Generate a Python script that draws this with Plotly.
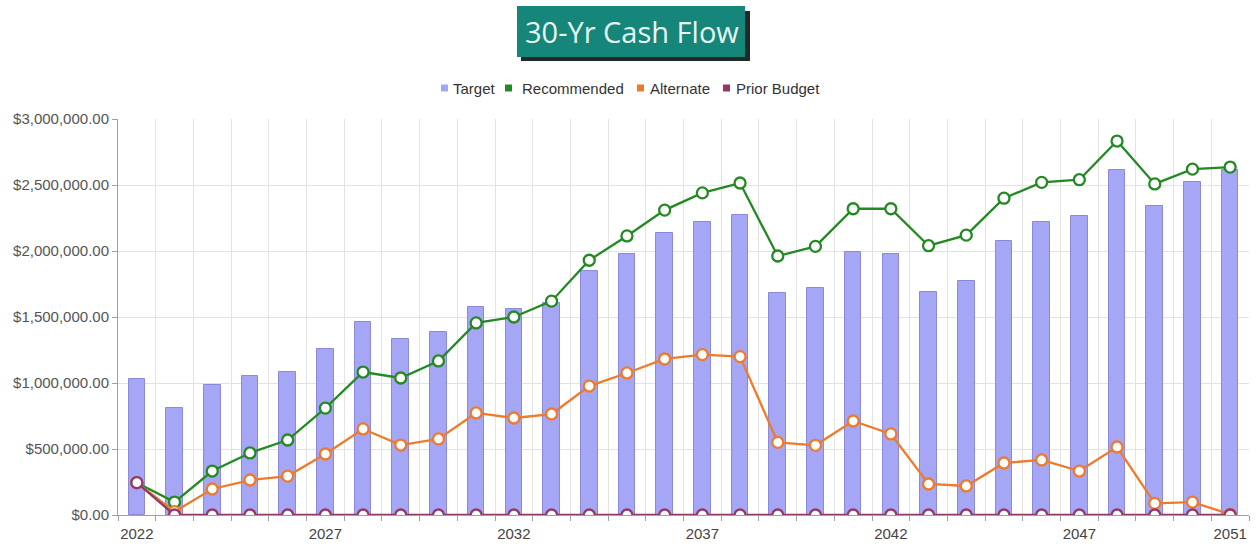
import plotly.graph_objects as go

years = list(range(2022, 2052))
target = [1030000, 810000, 985000, 1050000, 1080000, 1260000, 1460000, 1330000, 1390000, 1575000,
          1560000, 1605000, 1850000, 1980000, 2135000, 2220000, 2270000, 1680000, 1720000, 1990000,
          1980000, 1690000, 1770000, 2075000, 2220000, 2265000, 2615000, 2340000, 2520000, 2615000]
recommended = [245000, 98000, 333000, 470000, 568000, 810000, 1083000, 1038000, 1167000, 1455000,
               1500000, 1620000, 1930000, 2114000, 2310000, 2440000, 2515000, 1962000, 2035000, 2320000,
               2320000, 2040000, 2120000, 2400000, 2520000, 2540000, 2833000, 2508000, 2620000, 2636000]
alternate = [245000, 25000, 197000, 265000, 295000, 462000, 652000, 530000, 576000, 773000,
             735000, 765000, 977000, 1076000, 1182000, 1215000, 1200000, 550000, 528000, 712000,
             614000, 235000, 220000, 394000, 417000, 333000, 515000, 88000, 98000, 5000]
prior_budget = [245000] + [0] * 29

tick_years = [2022, 2027, 2032, 2037, 2042, 2047, 2051]
series_names = ["Target", "Recommended", "Alternate", "Prior Budget"]

C_BAR = "#a6a6f6"
C_BAR_LINE = "#8a8ad8"
C_GREEN = "#238a23"
C_ORANGE = "#ee7a2c"
C_MAROON = "#913a68"
colors = [C_BAR, C_GREEN, C_ORANGE, C_MAROON]

L, R, T, B = 118, 7, 119, 29
PW = 1256 - L - R
PH = 544 - T - B

def px(x):
    return (x - L) / PW

def py(y):
    return (544 - B - y) / PH

fig = go.Figure()
fig.add_trace(go.Bar(x=years, y=target, name="Target", width=0.44,
                     marker=dict(color=C_BAR, line=dict(color=C_BAR_LINE, width=1)),
                     showlegend=False))
for name, vals, col in [("Recommended", recommended, C_GREEN),
                        ("Alternate", alternate, C_ORANGE),
                        ("Prior Budget", prior_budget, C_MAROON)]:
    fig.add_trace(go.Scatter(x=years, y=vals, name=name, mode="lines+markers",
                             line=dict(color=col, width=2.3),
                             marker=dict(size=11, color="white", line=dict(color=col, width=2.3)),
                             showlegend=False, cliponaxis=True))

# title box with shadow
shapes = [
    dict(type="rect", xref="paper", yref="paper", x0=px(521), x1=px(750), y0=py(11), y1=py(61),
         fillcolor="#1f2a28", line=dict(width=0), layer="above"),
    dict(type="rect", xref="paper", yref="paper", x0=px(517), x1=px(745), y0=py(6), y1=py(57),
         fillcolor="#16857a", line=dict(width=0), layer="above"),
]
annotations = [
    dict(text="30-Yr Cash Flow", xref="paper", yref="paper", x=px(632), y=py(32),
         xanchor="center", yanchor="middle", showarrow=False,
         font=dict(family="Open Sans, sans-serif", size=29, color="#e6f6f1")),
]

# legend (square swatches + labels)
sq_centers = [444.5, 508.5, 640.5, 726.5]
text_starts = [453, 521.5, 650, 735.5]
for name, col, cx, tx in zip(series_names, colors, sq_centers, text_starts):
    shapes.append(dict(type="rect", xref="paper", yref="paper",
                       x0=px(cx - 3.5), x1=px(cx + 3.5), y0=py(84.5), y1=py(91.5),
                       fillcolor=col, line=dict(width=0)))
    annotations.append(dict(text=name, xref="paper", yref="paper", x=px(tx - 2), y=py(88),
                            xanchor="left", yanchor="middle", showarrow=False,
                            font=dict(family="Arial, Liberation Sans, sans-serif", size=15, color="#333")))

fig.update_layout(
    width=1256, height=544,
    margin=dict(l=L, r=R, t=T, b=B),
    paper_bgcolor="white", plot_bgcolor="white",
    font=dict(family="Arial, Liberation Sans, sans-serif", size=15, color="#444"),
    bargap=0,
    showlegend=False,
    shapes=shapes,
    annotations=annotations,
)

fig.update_xaxes(
    range=[2021.5, 2051.5], tickvals=tick_years, ticktext=[str(t) for t in tick_years],
    ticks="", showgrid=False, showline=True, linecolor="#a0a0a0", linewidth=1,
    tickfont=dict(size=15, color="#444"), zeroline=False, automargin=False,
    ticklabelstandoff=5,
    minor=dict(tick0=2021.5, dtick=1, ticks="outside", ticklen=5, tickcolor="#a0a0a0",
               showgrid=True, gridcolor="#e3e3e3", gridwidth=1),
)
fig.update_yaxes(
    range=[0, 3000000], dtick=500000, tickformat="$,.2f",
    showgrid=True, gridcolor="#e3e3e3", gridwidth=1,
    showline=True, linecolor="#a0a0a0", linewidth=1,
    ticks="outside", ticklen=5, tickcolor="#a0a0a0",
    tickfont=dict(size=15, color="#555"), zeroline=False, automargin=False,
)

fig.write_html("out.html", config={"displayModeBar": False},
               post_script="document.body.style.margin='0';document.body.style.overflow='hidden';")
